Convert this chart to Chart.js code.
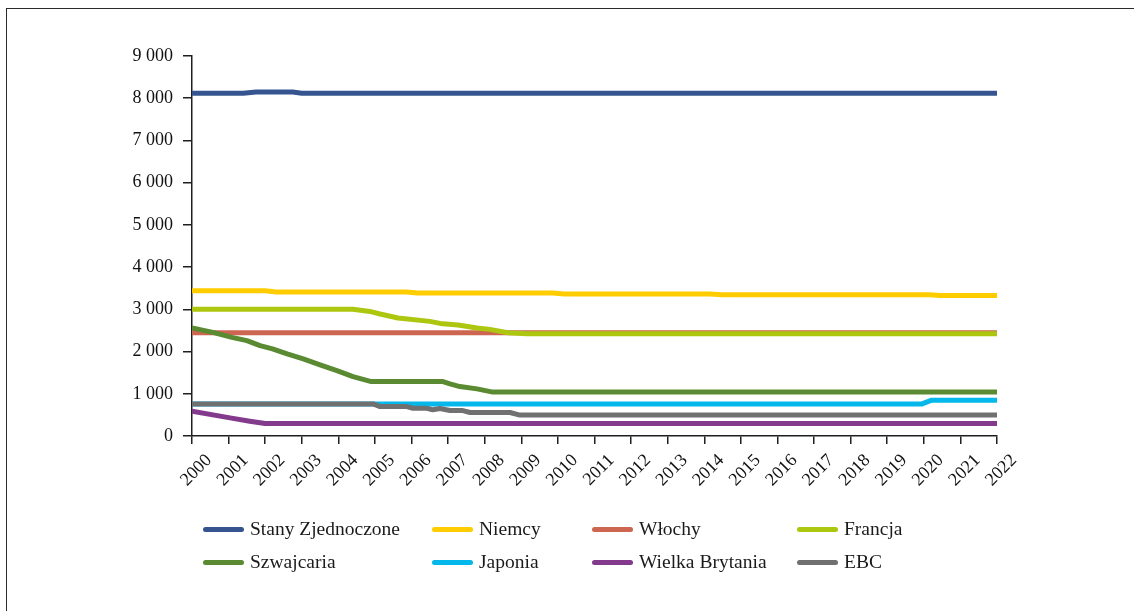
<!DOCTYPE html>
<html lang="pl">
<head>
<meta charset="utf-8">
<title>Rezerwy złota</title>
<script src="https://cdn.jsdelivr.net/npm/chart.js@4.4.1/dist/chart.umd.min.js"></script>
<style>
  html, body { margin: 0; padding: 0; background: #fff; }
  #wrap { position: relative; width: 1134px; height: 611px; overflow: hidden; background: #fff; }
  #frame { position: absolute; left: 6px; top: 8px; right: -10px; bottom: -10px;
           border-left: 1.5px solid #2b2b2b; border-top: 1.5px solid #2b2b2b; }
  #chart { position: absolute; left: 0; top: 0; }
  .leg { position: absolute; font-family: "Liberation Serif", "DejaVu Serif", serif;
         font-size: 19.5px; color: #1a1a1a; white-space: nowrap; line-height: 20px; }
  .sw { position: absolute; height: 5px; width: 41px; border-radius: 3px; }
</style>
</head>
<body>
<div id="wrap">
  <div id="frame"></div>
  <canvas id="chart" width="1134" height="611"></canvas>
  <div id="legend"></div>
</div>
<script>
// Oś X: lata
const yearTicks = ['2000','2001','2002','2003','2004','2005','2006','2007','2008','2009','2010',
                   '2011','2012','2013','2014','2015','2016','2017','2018','2019','2020','2021','2022'];
// Oś Y: tony
const yTickValues = [0, 1000, 2000, 3000, 4000, 5000, 6000, 7000, 8000, 9000];

// Punkty załamania każdej serii (rok, tony)
const usYears = [2000, 2001.4, 2001.75, 2002.75, 2003.0, 2022];
const usTons  = [8120, 8120, 8145, 8145, 8120, 8120];

const deYears = [2000, 2002.0, 2002.3, 2005.87, 2006.15, 2009.86, 2010.19, 2014.15, 2014.48, 2020.16, 2020.44, 2022];
const deTons  = [3440, 3440, 3410, 3410, 3385, 3385, 3362, 3362, 3345, 3345, 3330, 3330];

const itYears = [2000, 2022];
const itTons  = [2445, 2445];

const frYears = [2000, 2004.4, 2004.86, 2005.14, 2005.63, 2006.5, 2006.78, 2007.27, 2007.79, 2008.14, 2008.63, 2009.15, 2022];
const frTons  = [3000, 3000, 2950, 2890, 2795, 2715, 2667, 2630, 2558, 2525, 2447, 2420, 2420];

const chYears = [2000, 2000.57, 2001.09, 2001.5, 2001.86, 2002.2, 2002.6, 2003.04, 2003.5, 2003.96, 2004.4, 2004.9, 2006.86, 2007.05, 2007.32, 2007.79, 2008.22, 2022];
const chTons  = [2560, 2455, 2336, 2258, 2140, 2062, 1943, 1825, 1683, 1548, 1407, 1288, 1288, 1234, 1170, 1116, 1040, 1040];

const jpYears = [2000, 2019.95, 2020.2, 2022];
const jpTons  = [760, 760, 845, 845];

const ukYears = [2000, 2001.04, 2001.58, 2002.0, 2022];
const ukTons  = [585, 430, 350, 295, 295];

const ecbYears = [2000, 2004.95, 2005.14, 2005.87, 2006.04, 2006.42, 2006.58, 2006.78, 2007.05, 2007.4, 2007.6, 2008.69, 2008.96, 2022];
const ecbTons  = [760, 760, 697, 697, 657, 657, 620, 650, 603, 603, 556, 556, 495, 495];

const seriesNames  = ['Stany Zjednoczone', 'Niemcy', 'Włochy', 'Francja', 'Szwajcaria', 'Japonia', 'Wielka Brytania', 'EBC'];
const seriesColors = ['#365590', '#FFCC00', '#CC6651', '#ADC610', '#5A8A31', '#05B8EC', '#833A8C', '#707070'];

const seriesData = [
  [usYears, usTons], [deYears, deTons], [itYears, itTons], [frYears, frTons],
  [chYears, chTons], [jpYears, jpTons], [ukYears, ukTons], [ecbYears, ecbTons]
];
// kolejność rysowania: mniejsza wartość = wyżej
const drawOrder = [1, 1, 5, 1, 1, 5, 1, 1];

const toPoints = (xs, ys) => xs.map((x, i) => ({ x: x, y: ys[i] }));

const datasets = seriesData.map((s, i) => ({
  label: seriesNames[i],
  data: toPoints(s[0], s[1]),
  borderColor: seriesColors[i],
  backgroundColor: seriesColors[i],
  borderWidth: 5,
  borderCapStyle: 'round',
  borderJoinStyle: 'round',
  pointRadius: 0,
  tension: 0,
  order: drawOrder[i]
}));

const axisColor = '#1f1f1f';
const tickFont = { family: '"Liberation Serif", "DejaVu Serif", serif', size: 18 };
const fmt = v => v >= 1000 ? Math.floor(v / 1000) + ' ' + String(v % 1000).padStart(3, '0') : String(v);

new Chart(document.getElementById('chart'), {
  type: 'line',
  data: { datasets: datasets },
  options: {
    responsive: false,
    animation: false,
    events: [],
    layout: { padding: { left: 0, top: 56, right: 137, bottom: 0 } },
    plugins: { legend: { display: false }, tooltip: { enabled: false } },
    scales: {
      x: {
        type: 'linear',
        min: 2000, max: 2022,
        afterBuildTicks: sc => { sc.ticks = yearTicks.map(t => ({ value: Number(t) })); },
        afterFit: sc => { sc.height = 611 - 436; },
        border: { display: true, color: axisColor, width: 1.5 },
        grid: { display: true, drawOnChartArea: false, drawTicks: true, tickLength: 8, color: axisColor, lineWidth: 1.5 },
        ticks: {
          autoSkip: false, maxRotation: 45, minRotation: 45,
          labelOffset: 17, padding: 6,
          color: '#111', font: tickFont,
          callback: v => String(v)
        }
      },
      y: {
        min: 0, max: 9000,
        afterBuildTicks: sc => { sc.ticks = yTickValues.map(v => ({ value: v })); },
        afterFit: sc => { sc.width = 192; },
        border: { display: true, color: axisColor, width: 1.5 },
        grid: { display: true, drawOnChartArea: false, drawTicks: true, tickLength: 9, color: axisColor, lineWidth: 1.5 },
        ticks: { padding: 10, color: '#111', font: tickFont, callback: v => fmt(v) }
      }
    }
  }
});

// Legenda w dwóch wierszach po cztery pozycje
const legendCols = [203, 432, 592, 797];
const legendRows = [529, 562];
const legend = document.getElementById('legend');
seriesNames.forEach((name, i) => {
  const cx = legendCols[i % 4];
  const cy = legendRows[Math.floor(i / 4)];
  const sw = document.createElement('div');
  sw.className = 'sw';
  sw.style.left = cx + 'px';
  sw.style.top = (cy - 2.5) + 'px';
  sw.style.background = seriesColors[i];
  legend.appendChild(sw);
  const t = document.createElement('div');
  t.className = 'leg';
  t.style.left = (cx + 47) + 'px';
  t.style.top = (cy - 10) + 'px';
  t.textContent = name;
  legend.appendChild(t);
});
</script>
</body>
</html>
